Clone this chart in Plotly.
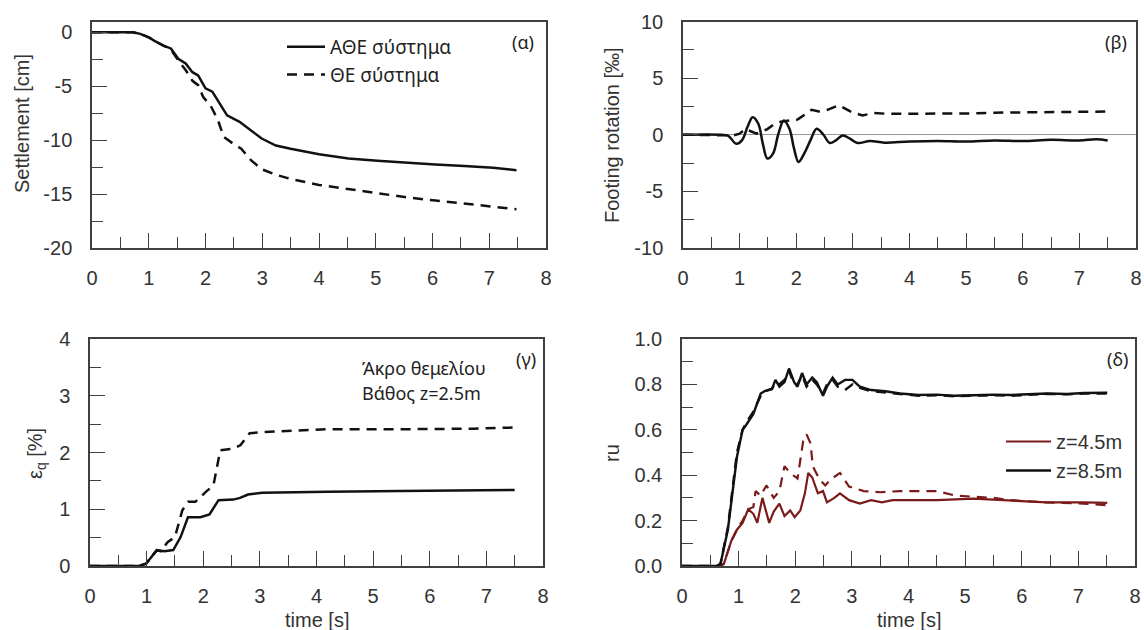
import plotly.graph_objects as go

# ---------------- data ----------------
# (α) settlement [cm]
t_set_athe = [0, 0.5, 0.72, 0.85, 1.0, 1.1, 1.26, 1.39, 1.52, 1.65, 1.77, 1.87, 2.0, 2.12, 2.22, 2.38, 2.6, 2.8, 2.99, 3.24, 3.5, 4.0, 4.52, 5.03, 5.54, 6.05, 6.56, 7.07, 7.48]
set_athe = [0, 0, 0, -0.15, -0.46, -0.8, -1.23, -1.5, -2.46, -2.9, -3.7, -4.0, -5.2, -5.5, -6.3, -7.7, -8.3, -9.1, -9.85, -10.5, -10.8, -11.3, -11.7, -11.9, -12.1, -12.25, -12.4, -12.55, -12.8]
t_set_the = [0, 0.5, 0.72, 0.85, 1.0, 1.1, 1.26, 1.39, 1.52, 1.65, 1.77, 1.87, 1.96, 2.09, 2.22, 2.32, 2.48, 2.63, 2.8, 2.99, 3.24, 3.5, 4.0, 4.52, 5.03, 5.54, 6.05, 6.56, 7.07, 7.48]
set_the = [0, 0, 0, -0.15, -0.46, -0.8, -1.23, -1.6, -2.6, -3.5, -4.5, -4.9, -6.0, -6.8, -8.15, -9.7, -10.3, -10.8, -11.85, -12.7, -13.2, -13.6, -14.15, -14.55, -14.9, -15.3, -15.6, -15.9, -16.2, -16.4]

# (β) footing rotation [‰]
t_rot_athe = [0, 0.68, 0.8, 0.94, 1.04, 1.14, 1.23, 1.33, 1.41, 1.49, 1.59, 1.68, 1.78, 1.88, 1.96, 2.04, 2.14, 2.25, 2.36, 2.48, 2.59, 2.7, 2.82, 2.95, 3.08, 3.3, 3.56, 4.0, 4.5, 5.0, 5.5, 6.0, 6.5, 7.0, 7.3, 7.5]
rot_athe = [0, 0, -0.1, -0.8, -0.5, 0.7, 1.55, 0.97, -0.8, -2.1, -1.67, 0.0, 1.26, 0.53, -1.2, -2.4, -1.67, -0.5, 0.53, 0.0, -0.73, -0.5, -0.06, -0.35, -0.73, -0.56, -0.7, -0.6, -0.55, -0.6, -0.5, -0.55, -0.45, -0.5, -0.4, -0.5]
t_rot_the = [0, 0.7, 0.9, 1.0, 1.1, 1.3, 1.49, 1.6, 1.68, 1.88, 2.0, 2.04, 2.15, 2.27, 2.4, 2.53, 2.75, 2.98, 3.17, 3.37, 3.6, 3.82, 4.2, 4.47, 4.8, 5.12, 5.5, 5.76, 6.1, 6.41, 6.8, 7.1, 7.51]
rot_the = [0, 0, -0.05, 0.1, 0.5, 0.1, 0.5, 0.9, 1.1, 1.26, 1.3, 1.4, 1.8, 2.2, 2.05, 2.15, 2.6, 2.0, 1.7, 1.93, 1.85, 1.85, 1.9, 1.85, 1.9, 1.88, 1.95, 1.96, 1.93, 1.98, 2.0, 2.0, 2.05]

# (γ) shear strain εq [%]
t_eq_athe = [0, 0.5, 0.86, 0.99, 1.08, 1.18, 1.31, 1.47, 1.6, 1.73, 1.95, 2.11, 2.27, 2.53, 2.65, 2.79, 3.04, 3.56, 4.2, 5.48, 6.77, 7.5]
eq_athe = [0, 0, 0.0, 0.04, 0.15, 0.28, 0.26, 0.28, 0.51, 0.86, 0.86, 0.91, 1.16, 1.17, 1.2, 1.26, 1.29, 1.3, 1.31, 1.32, 1.34, 1.34]
t_eq_the = [0, 0.5, 0.86, 0.99, 1.08, 1.18, 1.25, 1.37, 1.5, 1.63, 1.73, 1.86, 2.05, 2.18, 2.3, 2.53, 2.66, 2.82, 3.04, 3.56, 4.2, 5.48, 6.77, 7.5]
eq_the = [0, 0, 0, 0.04, 0.15, 0.28, 0.26, 0.42, 0.51, 0.98, 1.13, 1.13, 1.31, 1.42, 2.04, 2.07, 2.13, 2.34, 2.36, 2.38, 2.41, 2.41, 2.42, 2.44]

# (δ) excess pore pressure ratio ru
t_ru85 = [0, 0.62, 0.68, 0.81, 0.97, 1.07, 1.13, 1.26, 1.39, 1.46, 1.59, 1.65, 1.72, 1.81, 1.89, 1.98, 2.04, 2.12, 2.2, 2.3, 2.38, 2.49, 2.56, 2.66, 2.75, 2.88, 3.01, 3.14, 3.34, 3.59, 3.85, 4.18, 4.5, 4.8, 5.15, 5.5, 5.8, 6.1, 6.44, 6.8, 7.1, 7.51]
ru85_athe = [0, 0, 0.01, 0.16, 0.48, 0.6, 0.62, 0.67, 0.76, 0.77, 0.78, 0.82, 0.79, 0.81, 0.87, 0.81, 0.79, 0.85, 0.8, 0.83, 0.81, 0.75, 0.79, 0.83, 0.8, 0.82, 0.82, 0.79, 0.775, 0.77, 0.76, 0.753, 0.755, 0.75, 0.752, 0.755, 0.753, 0.757, 0.76, 0.758, 0.762, 0.763]
ru85_the = [0, 0, 0.01, 0.17, 0.5, 0.6, 0.63, 0.68, 0.75, 0.77, 0.78, 0.81, 0.8, 0.82, 0.86, 0.8, 0.8, 0.84, 0.79, 0.82, 0.8, 0.76, 0.8, 0.82, 0.79, 0.775, 0.8, 0.785, 0.77, 0.765, 0.758, 0.75, 0.752, 0.748, 0.75, 0.752, 0.75, 0.755, 0.758, 0.756, 0.76, 0.76]
t_ru45_athe = [0, 0.68, 0.74, 0.87, 0.97, 1.07, 1.17, 1.26, 1.33, 1.42, 1.54, 1.62, 1.72, 1.81, 1.91, 1.99, 2.09, 2.17, 2.23, 2.3, 2.4, 2.49, 2.56, 2.69, 2.79, 2.95, 3.14, 3.34, 3.53, 3.72, 3.98, 4.5, 5.15, 5.8, 6.44, 7.09, 7.51]
ru45_athe = [0, 0, 0.01, 0.11, 0.16, 0.19, 0.25, 0.23, 0.19, 0.3, 0.19, 0.24, 0.275, 0.22, 0.245, 0.215, 0.245, 0.32, 0.41, 0.39, 0.32, 0.33, 0.28, 0.3, 0.32, 0.29, 0.275, 0.29, 0.28, 0.29, 0.29, 0.29, 0.297, 0.29, 0.28, 0.28, 0.278]
t_ru45_the = [0, 0.68, 0.74, 0.87, 0.97, 1.07, 1.17, 1.26, 1.3, 1.39, 1.49, 1.62, 1.72, 1.81, 1.91, 2.04, 2.14, 2.2, 2.27, 2.31, 2.43, 2.53, 2.62, 2.79, 2.95, 3.21, 3.5, 3.85, 4.2, 4.5, 4.83, 5.15, 5.5, 5.8, 6.44, 7.09, 7.51]
ru45_the = [0, 0, 0.01, 0.11, 0.16, 0.2, 0.25, 0.26, 0.33, 0.31, 0.355, 0.3, 0.33, 0.44, 0.41, 0.385, 0.55, 0.58, 0.54, 0.44, 0.38, 0.355, 0.38, 0.41, 0.35, 0.33, 0.325, 0.33, 0.33, 0.33, 0.31, 0.305, 0.3, 0.29, 0.28, 0.275, 0.268]

# tick labels
x_ticks = [0, 1, 2, 3, 4, 5, 6, 7, 8]
set_ticks = [0, -5, -10, -15, -20]
set_ticktext = ["0", "-5", "-10", "-15", "-20"]
rot_ticks = [10, 5, 0, -5, -10]
rot_ticktext = ["10", "5", "0", "-5", "-10"]

# ---------------- figure ----------------
W, H = 1144, 630
BLACK = "#111111"
RED = "#7a1a1a"
DASH = "10px,7px"

fig = go.Figure()

def add(x, y, ax, dash=None, color=BLACK, width=2.5, name=None, legend=None, shape="linear"):
    fig.add_trace(go.Scatter(
        x=x, y=y, mode="lines", xaxis="x" + ax, yaxis="y" + ax,
        line=dict(color=color, width=width, dash=dash, shape=shape),
        name=name, showlegend=name is not None, legend=legend,
        hoverinfo="skip"))

add(t_set_athe, set_athe, "", name="ΑΘΕ σύστημα", legend="legend")
add(t_set_the, set_the, "", dash=DASH, name="ΘΕ σύστημα", legend="legend")
add(t_rot_athe, rot_athe, "2", shape="spline")
add(t_rot_the, rot_the, "2", dash=DASH)
add(t_eq_athe, eq_athe, "3")
add(t_eq_the, eq_the, "3", dash=DASH)
add(t_ru45_athe, ru45_athe, "4", color=RED, width=2.2, name="z=4.5m", legend="legend2")
add(t_ru45_the, ru45_the, "4", color=RED, width=2.2, dash=DASH)
add(t_ru85, ru85_athe, "4", width=2.4, name="z=8.5m", legend="legend2")
add(t_ru85, ru85_the, "4", width=2.4, dash=DASH)

AXC = "#404040"
TF = dict(family="Liberation Sans, Arial, sans-serif", size=20, color="#333333")

def axis(dom, rng, dtick, minor, anchor, **kw):
    d = dict(domain=dom, range=rng, dtick=dtick, tick0=0, anchor=anchor,
             automargin=False,
             showline=True, linecolor=AXC, linewidth=1.5, mirror=True,
             ticks="inside", ticklen=15, tickwidth=1.3, tickcolor=AXC,
             showgrid=False, zeroline=False, tickfont=TF,
             minor=dict(ticks="inside", ticklen=11, tickwidth=1.3, tickcolor=AXC,
                        dtick=minor, tick0=0, showgrid=False))
    d.update(kw)
    return d

px = lambda a, b: [a / W, b / W]
py = lambda top, bot: [1 - bot / H, 1 - top / H]

XS = 11   # x tick label standoff
YS = 14   # y tick label standoff

fig.update_layout(
    width=W, height=H, margin=dict(l=0, r=0, t=0, b=0, autoexpand=False),
    paper_bgcolor="white", plot_bgcolor="white",
    xaxis=axis(px(92, 546), [0, 8], 1, 0.5, "y", tickvals=x_ticks, ticklabelstandoff=XS),
    yaxis=axis(py(21.5, 248), [-20, 1], 5, 2.5, "x", tickvals=set_ticks, ticktext=set_ticktext,
               ticklabelstandoff=YS),
    xaxis2=axis(px(683, 1136), [0, 8], 1, 0.5, "y2", tickvals=x_ticks, ticklabelstandoff=XS),
    yaxis2=axis(py(21.5, 248), [-10, 10], 5, 2.5, "x2", tickvals=rot_ticks, ticktext=rot_ticktext,
                ticklabelstandoff=YS,
                zeroline=True, zerolinecolor="#999999", zerolinewidth=1.2),
    xaxis3=axis(px(90, 543), [0, 8], 1, 0.5, "y3", tickvals=x_ticks, ticklabelstandoff=XS),
    yaxis3=axis(py(339, 566), [0, 4], 1, 0.5, "x3", ticklabelstandoff=YS),
    xaxis4=axis(px(682, 1135), [0, 8], 1, 0.5, "y4", tickvals=x_ticks, ticklabelstandoff=XS),
    yaxis4=axis(py(339, 566), [0, 1], 0.2, 0.1, "x4", tickformat=".1f", ticklabelstandoff=YS),
    legend=dict(x=282 / W, y=1 - 28 / H, xanchor="left", yanchor="top",
                bgcolor="rgba(0,0,0,0)", itemwidth=38, tracegroupgap=0,
                font=dict(family="Noto Sans, sans-serif", size=19, color="#222222")),
    legend2=dict(x=1001 / W, y=1 - 422 / H, xanchor="left", yanchor="top",
                 bgcolor="rgba(0,0,0,0)", itemwidth=45,
                 font=dict(family="Liberation Sans, Arial, sans-serif", size=20, color="#333333")),
)

TITLE_F = dict(family="Liberation Sans, Arial, sans-serif", size=20, color="#333333")
LBL_F = dict(family="Noto Sans, sans-serif", size=18, color="#222222")

def note(text, x, y, font, angle=0, xanchor="center"):
    fig.add_annotation(text=text, x=x / W, y=1 - y / H, xref="paper", yref="paper",
                       showarrow=False, textangle=angle, font=font,
                       xanchor=xanchor, yanchor="middle")

note("Settlement [cm]", 22, 124, TITLE_F, angle=-90)
note("Footing rotation [‰]", 612, 135, TITLE_F, angle=-90)
note("ε<sub>q</sub> [%]", 36, 454, TITLE_F, angle=-90)
note("ru", 612, 453, TITLE_F, angle=-90)
note("time [s]", 316.5, 620, TITLE_F)
note("time [s]", 908.5, 620, TITLE_F)

note("(α)", 523, 42, LBL_F)
note("(β)", 1116, 42, LBL_F)
note("(γ)", 526, 359, LBL_F)
note("(δ)", 1117, 359, LBL_F)
note("Άκρο θεμελίου", 360, 368, LBL_F, xanchor="left")
note("Βάθος z=2.5m", 360, 393, LBL_F, xanchor="left")

fig.write_html("out.html")
